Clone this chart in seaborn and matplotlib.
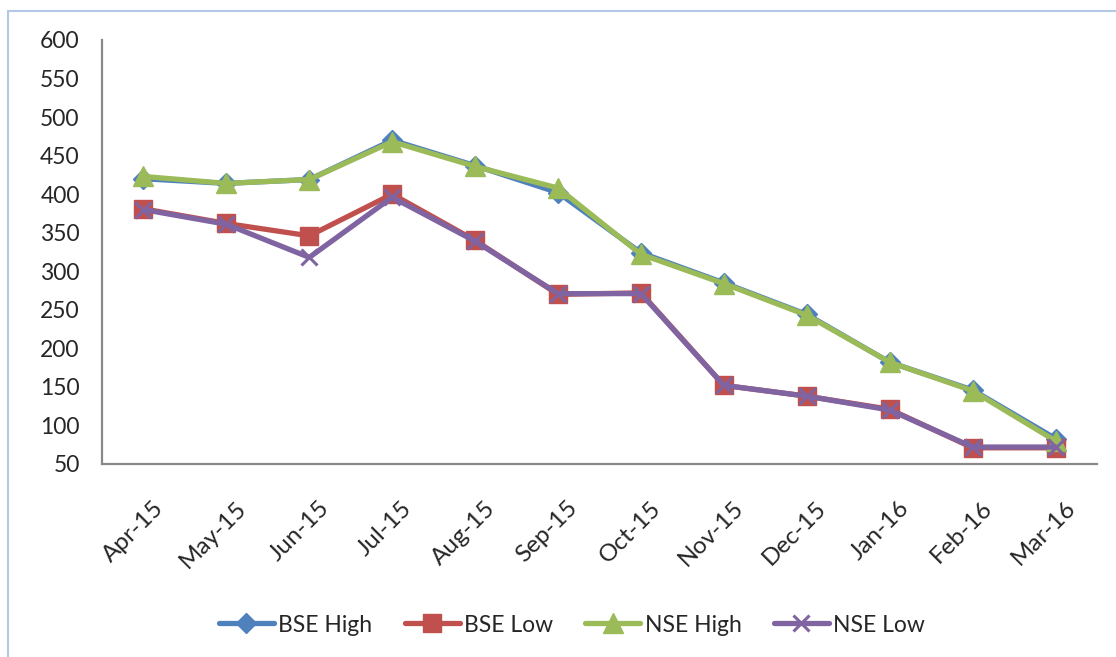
import matplotlib
matplotlib.use("Agg")
import matplotlib.pyplot as plt
import matplotlib.transforms as mtransforms
import seaborn as sns
import pandas as pd
from matplotlib.lines import Line2D

months = ["Apr-15", "May-15", "Jun-15", "Jul-15", "Aug-15", "Sep-15",
          "Oct-15", "Nov-15", "Dec-15", "Jan-16", "Feb-16", "Mar-16"]
bse_high = [420, 414, 419, 470, 437, 402, 324, 285, 244, 182, 146, 83]
bse_low = [381, 362, 346, 400, 340, 270, 272, 152, 138, 121, 71, 71]
nse_high = [423, 414, 419, 468, 436, 408, 322, 284, 243, 182, 145, 80]
nse_low = [380, 361, 318, 396, 339, 271, 271, 152, 138, 120, 72, 72]
yticks = [50, 100, 150, 200, 250, 300, 350, 400, 450, 500, 550, 600]

series = [
    ("BSE High", bse_high, "#4F81BD", "D", 10, 1),
    ("BSE Low", bse_low, "#C0504D", "s", 13, 1),
    ("NSE High", nse_high, "#9BBB59", "^", 14, 1),
    ("NSE Low", nse_low, "#8064A2", "x", 12, 2.2),
]

sns.set_theme(style="white")
plt.rcParams["font.family"] = ["Lato", "DejaVu Sans"]

fig = plt.figure(figsize=(11.16, 6.57), dpi=100)
ax = fig.add_axes([102 / 1116, 1 - 464 / 657, (1097 - 102) / 1116, (464 - 40) / 657])

pos = list(range(len(months)))
for name, vals, color, mk, ms, mew in series:
    df = pd.DataFrame({"x": pos, "y": vals})
    sns.lineplot(data=df, x="x", y="y", ax=ax, color=color, linewidth=3.8,
                 marker=mk, markersize=ms, markeredgecolor=color,
                 markeredgewidth=mew, label=name)

ax.set_xlim(-0.5, len(months) - 0.5)
ax.set_ylim(50, 600)
ax.set_yticks(yticks)
ax.set_yticklabels([str(v) for v in yticks], fontsize=16.5, color="#262626")
ax.set_xticks(pos)
ax.set_xticklabels(months, rotation=45, ha="right", rotation_mode="anchor",
                   fontsize=17.5, color="#262626")
ax.tick_params(axis="y", length=0, pad=16)
ax.tick_params(axis="x", length=0, pad=24)
offset = mtransforms.ScaledTranslation(9 / 100, 0, fig.dpi_scale_trans)
for lbl in ax.get_xticklabels():
    lbl.set_transform(lbl.get_transform() + offset)
ax.set_xlabel("")
ax.set_ylabel("")
for s in ["top", "right"]:
    ax.spines[s].set_visible(False)
for s in ["left", "bottom"]:
    ax.spines[s].set_color("#898989")
    ax.spines[s].set_linewidth(1.6)

handles, labels = ax.get_legend_handles_labels()
ax.legend_.remove()
fig.legend(handles, labels, loc="center", bbox_to_anchor=(572 / 1116, 1 - 625 / 657),
           ncol=4, frameon=False, fontsize=16.5, handlelength=2.4,
           columnspacing=1.4, handletextpad=0.2, markerscale=1.0,
           labelcolor="#262626")

fig.add_artist(Line2D([8 / 1116, 8 / 1116], [0, 1 - 11 / 657],
                      transform=fig.transFigure, color="#B4C7E7", linewidth=1.5))
fig.add_artist(Line2D([8 / 1116, 1], [1 - 11 / 657, 1 - 11 / 657],
                      transform=fig.transFigure, color="#B4C7E7", linewidth=1.5))

fig.savefig("out.png", dpi=100)
